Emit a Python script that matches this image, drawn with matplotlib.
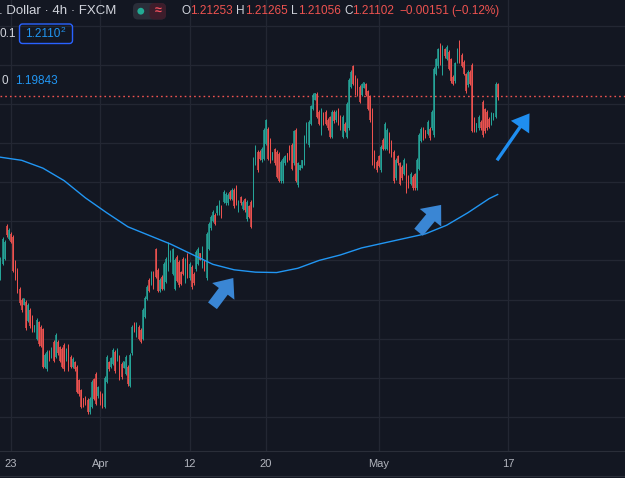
import matplotlib
matplotlib.use('Agg')
import matplotlib.pyplot as plt
import numpy as np
from matplotlib.patches import FancyArrowPatch, FancyBboxPatch, Circle

plt.rcParams['font.family'] = ['Liberation Sans', 'DejaVu Sans']

# 4h candles (oldest first)
opens = [
    1.1877, 1.1896, 1.1902, 1.1944, 1.1928, 1.1934, 1.1930, 1.1898, 1.1888, 1.1864,
    1.1850, 1.1843, 1.1847, 1.1823, 1.1837, 1.1828, 1.1808, 1.1800, 1.1821, 1.1815,
    1.1812, 1.1764, 1.1761, 1.1783, 1.1777, 1.1796, 1.1777, 1.1796, 1.1789, 1.1787,
    1.1792, 1.1774, 1.1791, 1.1777, 1.1764, 1.1770, 1.1764, 1.1747, 1.1734, 1.1724,
    1.1725, 1.1722, 1.1706, 1.1713, 1.1748, 1.1755, 1.1726, 1.1731, 1.1728, 1.1713,
    1.1745, 1.1770, 1.1764, 1.1768, 1.1783, 1.1774, 1.1777, 1.1768, 1.1762, 1.1755,
    1.1764, 1.1740, 1.1781, 1.1819, 1.1804, 1.1815, 1.1811, 1.1800, 1.1828, 1.1851,
    1.1875, 1.1870, 1.1885, 1.1914, 1.1888, 1.1861, 1.1879, 1.1864, 1.1873, 1.1889,
    1.1900, 1.1883, 1.1864, 1.1905, 1.1898, 1.1885, 1.1902, 1.1873, 1.1907, 1.1877,
    1.1892, 1.1883, 1.1889, 1.1896, 1.1910, 1.1892, 1.1898, 1.1877, 1.1915, 1.1941,
    1.1951, 1.1958, 1.1960, 1.1960, 1.1969, 1.1975, 1.1973, 1.1973, 1.1988, 1.1979,
    1.1990, 1.1994, 1.1964, 1.1981, 1.1966, 1.1978, 1.1953, 1.1969, 1.1975, 1.1970,
    1.2024, 1.2039, 1.2039, 1.2028, 1.2030, 1.2049, 1.2068, 1.2054, 1.2028, 1.2042,
    1.2039, 1.2036, 1.2001, 1.2001, 1.2024, 1.2037, 1.2045, 1.2048, 1.2024, 1.2067,
    1.1996, 1.2015, 1.2018, 1.2024, 1.2052, 1.2047, 1.2075, 1.2094, 1.2105, 1.2113,
    1.2090, 1.2062, 1.2088, 1.2090, 1.2080, 1.2083, 1.2058, 1.2090, 1.2079, 1.2093,
    1.2084, 1.2058, 1.2075, 1.2058, 1.2069, 1.2122, 1.2148, 1.2135, 1.2131, 1.2122,
    1.2112, 1.2120, 1.2125, 1.2116, 1.2109, 1.2093, 1.2039, 1.2026, 1.2033, 1.2015,
    1.2054, 1.2043, 1.2043, 1.2062, 1.2052, 1.2039, 1.2005, 1.2033, 1.2024, 1.2020,
    1.2011, 1.2022, 1.2007, 1.1998, 1.2007, 1.2010, 1.1992, 1.2017, 1.2053, 1.2068,
    1.2067, 1.2062, 1.2068, 1.2069, 1.2060, 1.2139, 1.2148, 1.2176, 1.2139, 1.2170,
    1.2158, 1.2167, 1.2157, 1.2135, 1.2129, 1.2154, 1.2180, 1.2163, 1.2154, 1.2138,
    1.2124, 1.2141, 1.2150, 1.2081, 1.2066, 1.2069, 1.2077, 1.2103, 1.2093, 1.2090,
    1.2081, 1.2075, 1.2079, 1.2084, 1.21253,
]
highs = [
    1.1904, 1.1930, 1.1926, 1.1946, 1.1941, 1.1936, 1.1932, 1.1900, 1.1890, 1.1866,
    1.1852, 1.1852, 1.1849, 1.1845, 1.1839, 1.1830, 1.1817, 1.1826, 1.1823, 1.1817,
    1.1814, 1.1781, 1.1785, 1.1785, 1.1789, 1.1798, 1.1807, 1.1798, 1.1791, 1.1789,
    1.1794, 1.1788, 1.1793, 1.1779, 1.1776, 1.1772, 1.1766, 1.1749, 1.1736, 1.1724,
    1.1727, 1.1724, 1.1725, 1.1747, 1.1750, 1.1757, 1.1740, 1.1733, 1.1730, 1.1752,
    1.1779, 1.1772, 1.1777, 1.1788, 1.1785, 1.1788, 1.1779, 1.1770, 1.1772, 1.1779,
    1.1766, 1.1781, 1.1817, 1.1821, 1.1821, 1.1817, 1.1813, 1.1839, 1.1854, 1.1868,
    1.1877, 1.1886, 1.1887, 1.1916, 1.1890, 1.1877, 1.1881, 1.1898, 1.1904, 1.1923,
    1.1913, 1.1916, 1.1903, 1.1907, 1.1900, 1.1887, 1.1904, 1.1903, 1.1909, 1.1898,
    1.1894, 1.1885, 1.1913, 1.1917, 1.1910, 1.1919, 1.1900, 1.1936, 1.1949, 1.1958,
    1.1964, 1.1960, 1.1971, 1.1977, 1.1971, 1.1990, 1.1987, 1.1986, 1.1990, 1.1992,
    1.1992, 1.1996, 1.1977, 1.1983, 1.1977, 1.1980, 1.1977, 1.1971, 1.1977, 1.2032,
    1.2047, 1.2041, 1.2041, 1.2045, 1.2069, 1.2081, 1.2070, 1.2056, 1.2038, 1.2044,
    1.2041, 1.2038, 1.2028, 1.2032, 1.2035, 1.2037, 1.2047, 1.2050, 1.2067, 1.2069,
    1.2026, 1.2022, 1.2028, 1.2060, 1.2077, 1.2079, 1.2099, 1.2114, 1.2114, 1.2115,
    1.2092, 1.2095, 1.2090, 1.2092, 1.2082, 1.2085, 1.2092, 1.2092, 1.2092, 1.2095,
    1.2086, 1.2086, 1.2077, 1.2102, 1.2133, 1.2143, 1.2150, 1.2137, 1.2133, 1.2124,
    1.2127, 1.2128, 1.2127, 1.2118, 1.2111, 1.2095, 1.2041, 1.2028, 1.2035, 1.2047,
    1.2056, 1.2077, 1.2069, 1.2064, 1.2054, 1.2041, 1.2031, 1.2035, 1.2026, 1.2022,
    1.2031, 1.2024, 1.2009, 1.2013, 1.2009, 1.2012, 1.2031, 1.2063, 1.2070, 1.2070,
    1.2067, 1.2079, 1.2070, 1.2092, 1.2147, 1.2159, 1.2172, 1.2178, 1.2175, 1.2172,
    1.2175, 1.2169, 1.2159, 1.2137, 1.2154, 1.2172, 1.2182, 1.2165, 1.2156, 1.2140,
    1.2143, 1.2143, 1.2152, 1.2083, 1.2076, 1.2086, 1.2079, 1.2105, 1.2095, 1.2092,
    1.2083, 1.2090, 1.2088, 1.2128, 1.21265,
]
lows = [
    1.1875, 1.1894, 1.1900, 1.1930, 1.1926, 1.1922, 1.1885, 1.1875, 1.1858, 1.1843,
    1.1834, 1.1843, 1.1811, 1.1821, 1.1814, 1.1808, 1.1808, 1.1798, 1.1791, 1.1789,
    1.1762, 1.1762, 1.1759, 1.1772, 1.1775, 1.1770, 1.1775, 1.1779, 1.1770, 1.1762,
    1.1759, 1.1772, 1.1759, 1.1762, 1.1762, 1.1759, 1.1730, 1.1727, 1.1711, 1.1713,
    1.1715, 1.1704, 1.1704, 1.1711, 1.1721, 1.1715, 1.1724, 1.1715, 1.1711, 1.1711,
    1.1743, 1.1759, 1.1762, 1.1766, 1.1756, 1.1772, 1.1747, 1.1749, 1.1762, 1.1753,
    1.1740, 1.1738, 1.1779, 1.1808, 1.1802, 1.1798, 1.1794, 1.1798, 1.1826, 1.1849,
    1.1859, 1.1868, 1.1864, 1.1877, 1.1859, 1.1859, 1.1862, 1.1862, 1.1871, 1.1887,
    1.1898, 1.1881, 1.1862, 1.1872, 1.1866, 1.1868, 1.1881, 1.1871, 1.1877, 1.1875,
    1.1864, 1.1869, 1.1887, 1.1894, 1.1900, 1.1890, 1.1887, 1.1875, 1.1913, 1.1939,
    1.1949, 1.1945, 1.1958, 1.1958, 1.1954, 1.1973, 1.1971, 1.1971, 1.1977, 1.1977,
    1.1967, 1.1971, 1.1962, 1.1971, 1.1964, 1.1962, 1.1951, 1.1954, 1.1941, 1.1968,
    1.2022, 1.2013, 1.2028, 1.2026, 1.2028, 1.2047, 1.2028, 1.2024, 1.2028, 1.2022,
    1.2005, 1.2000, 1.1999, 1.1999, 1.2022, 1.2026, 1.2028, 1.2015, 1.2022, 1.2000,
    1.1994, 1.2015, 1.2018, 1.2022, 1.2050, 1.2045, 1.2073, 1.2092, 1.2105, 1.2082,
    1.2073, 1.2060, 1.2073, 1.2073, 1.2067, 1.2056, 1.2056, 1.2076, 1.2077, 1.2073,
    1.2067, 1.2056, 1.2064, 1.2056, 1.2067, 1.2120, 1.2124, 1.2111, 1.2110, 1.2101,
    1.2110, 1.2120, 1.2110, 1.2092, 1.2077, 1.2022, 1.2018, 1.2013, 1.2019, 1.2013,
    1.2041, 1.2041, 1.2041, 1.2037, 1.2032, 1.1999, 1.2003, 1.2022, 1.1996, 1.2003,
    1.2009, 1.1986, 1.1992, 1.1996, 1.1990, 1.1990, 1.1990, 1.2015, 1.2051, 1.2054,
    1.2056, 1.2060, 1.2054, 1.2067, 1.2058, 1.2137, 1.2146, 1.2150, 1.2137, 1.2159,
    1.2156, 1.2143, 1.2127, 1.2124, 1.2127, 1.2152, 1.2152, 1.2147, 1.2137, 1.2114,
    1.2122, 1.2124, 1.2064, 1.2064, 1.2064, 1.2067, 1.2067, 1.2058, 1.2063, 1.2067,
    1.2069, 1.2073, 1.2079, 1.2082, 1.21056,
]
closes = [
    1.1902, 1.1928, 1.1924, 1.1932, 1.1939, 1.1924, 1.1887, 1.1877, 1.1860, 1.1845,
    1.1836, 1.1852, 1.1813, 1.1843, 1.1816, 1.1810, 1.1817, 1.1824, 1.1793, 1.1791,
    1.1764, 1.1779, 1.1783, 1.1774, 1.1787, 1.1772, 1.1805, 1.1781, 1.1772, 1.1764,
    1.1761, 1.1786, 1.1761, 1.1764, 1.1774, 1.1761, 1.1732, 1.1729, 1.1713, 1.1713,
    1.1717, 1.1706, 1.1723, 1.1745, 1.1723, 1.1717, 1.1738, 1.1717, 1.1713, 1.1750,
    1.1777, 1.1761, 1.1775, 1.1786, 1.1758, 1.1786, 1.1749, 1.1751, 1.1772, 1.1777,
    1.1742, 1.1779, 1.1815, 1.1810, 1.1819, 1.1800, 1.1796, 1.1837, 1.1852, 1.1866,
    1.1861, 1.1884, 1.1866, 1.1879, 1.1861, 1.1875, 1.1864, 1.1896, 1.1902, 1.1921,
    1.1911, 1.1914, 1.1901, 1.1874, 1.1868, 1.1870, 1.1883, 1.1901, 1.1879, 1.1896,
    1.1866, 1.1871, 1.1911, 1.1915, 1.1900, 1.1917, 1.1889, 1.1934, 1.1947, 1.1956,
    1.1962, 1.1947, 1.1969, 1.1975, 1.1956, 1.1988, 1.1985, 1.1984, 1.1979, 1.1990,
    1.1969, 1.1973, 1.1975, 1.1973, 1.1975, 1.1964, 1.1975, 1.1956, 1.1943, 1.2030,
    1.2045, 1.2015, 1.2030, 1.2043, 1.2067, 1.2079, 1.2030, 1.2026, 1.2038, 1.2024,
    1.2007, 1.2002, 1.2026, 1.2030, 1.2033, 1.2026, 1.2030, 1.2017, 1.2065, 1.2002,
    1.2024, 1.2022, 1.2028, 1.2058, 1.2075, 1.2077, 1.2097, 1.2112, 1.2114, 1.2084,
    1.2075, 1.2093, 1.2075, 1.2075, 1.2069, 1.2058, 1.2090, 1.2078, 1.2090, 1.2075,
    1.2069, 1.2084, 1.2066, 1.2100, 1.2131, 1.2141, 1.2126, 1.2113, 1.2112, 1.2103,
    1.2125, 1.2128, 1.2112, 1.2094, 1.2079, 1.2024, 1.2020, 1.2015, 1.2021, 1.2045,
    1.2043, 1.2075, 1.2067, 1.2039, 1.2034, 1.2001, 1.2029, 1.2024, 1.1998, 1.2005,
    1.2029, 1.1988, 1.1994, 1.2011, 1.1992, 1.1992, 1.2029, 1.2061, 1.2068, 1.2056,
    1.2056, 1.2077, 1.2056, 1.2090, 1.2145, 1.2157, 1.2170, 1.2152, 1.2173, 1.2161,
    1.2173, 1.2145, 1.2129, 1.2126, 1.2152, 1.2170, 1.2154, 1.2149, 1.2139, 1.2116,
    1.2141, 1.2126, 1.2066, 1.2066, 1.2076, 1.2084, 1.2069, 1.2060, 1.2065, 1.2069,
    1.2071, 1.2088, 1.2088, 1.2126, 1.21102,
]

# moving average, sampled every 10 candles (last point = current value)
ma_idx = [0, 10, 20, 30, 40, 50, 60, 70, 80, 90, 100, 110, 120, 130, 140, 150,
          160, 170, 180, 190, 200, 210, 220, 230, 234]
ma_val = [1.2032, 1.2028, 1.2018, 1.2002, 1.1980, 1.1961, 1.1943, 1.1932, 1.1921,
          1.1908, 1.1895, 1.1888, 1.1885, 1.18845, 1.1890, 1.1900, 1.1907, 1.1916,
          1.1922, 1.1928, 1.1934, 1.1945, 1.1961, 1.1979, 1.19843]

# time axis
tick_idx = [5, 47, 89, 125, 178, 239]
tick_lbl = ['23', 'Apr', '12', '20', 'May', '17']
price_grid = [1.165, 1.170, 1.175, 1.180, 1.185, 1.190, 1.195, 1.200, 1.205,
              1.210, 1.215, 1.220]

# hand-drawn arrows: (tail, tip) in (candle index, price)
arrow_fat = [((99.8, 1.18420), (109.6, 1.18775)),
             ((196.8, 1.19360), (207.4, 1.19710))]
arrow_thin = ((233.7, 1.2028), (249.0, 1.2088))

BG = '#131722'
GRID = '#232733'
UP, DOWN = '#26a69a', '#ef5350'
BLUE = '#2196f3'
TXT = '#d1d4dc'

o = np.array(opens)
h = np.array(highs)
l = np.array(lows)
c = np.array(closes)
x = np.arange(len(c))
up = c >= o
col = np.where(up, UP, DOWN)

fig = plt.figure(figsize=(6.25, 4.78), dpi=100, facecolor=BG)
ax = fig.add_axes([0, 27 / 478, 1, 451 / 478], facecolor=BG)

ax.set_xticks(tick_idx)
ax.set_xticklabels(tick_lbl)
ax.set_yticks(price_grid)
ax.grid(True, color=GRID, lw=0.9)
ax.set_axisbelow(True)
ax.tick_params(axis='x', length=0, pad=5.5, colors='#b2b5be', labelsize=8)
ax.tick_params(axis='y', length=0, labelleft=False)
for s in ['top', 'left', 'right']:
    ax.spines[s].set_visible(False)
ax.spines['bottom'].set_color('#2a2e39')

# candles
ax.vlines(x, l, h, colors=col, lw=0.7, zorder=3)
ax.bar(x, np.abs(c - o), bottom=np.minimum(o, c), width=0.62, color=col,
       alpha=0.75, lw=0, zorder=4)

# moving average
ax.plot(ma_idx, ma_val, color=BLUE, lw=1.0, zorder=5)

# last price line
ax.axhline(closes[-1], color=DOWN, lw=1.0, ls=(0, (1.2, 2.2)), zorder=2)

# arrows
for tail, tip in arrow_fat:
    ax.add_patch(FancyArrowPatch(tail, tip, arrowstyle='simple,head_length=12,head_width=20,tail_width=8',
                                 mutation_scale=1, shrinkA=0, shrinkB=0,
                                 color='#3a86d4', lw=0, zorder=6))
ax.add_patch(FancyArrowPatch(arrow_thin[0], arrow_thin[1],
                             arrowstyle='simple,head_length=12,head_width=16,tail_width=2.4',
                             mutation_scale=1, shrinkA=0, shrinkB=0,
                             color='#1f8ef0', lw=0, zorder=6))

ax.set_xlim((0 - 0.4) / 2.125, (625 - 0.4) / 2.125)
ax.set_ylim(1.16563, 1.22330)

# overlay in pixel coordinates for the legend
ov = fig.add_axes([0, 0, 1, 1])
ov.set_xlim(0, 625)
ov.set_ylim(478, 0)
ov.axis('off')
ov.axhline(476, color='#2a2e39', lw=0.8)

ov.text(-1, 10.5, '. Dollar · 4h · FXCM', color=TXT, fontsize=9.5, va='center')
ov.add_patch(FancyBboxPatch((133, 3), 33, 16.5, boxstyle='round,pad=0,rounding_size=5',
                            fc='#2a2e39', ec='none'))
ov.add_patch(FancyBboxPatch((149.5, 3), 16.5, 16.5, boxstyle='round,pad=0,rounding_size=5',
                            fc='#3d1d2b', ec='none'))
ov.add_patch(Circle((140.8, 11.2), 3.4, fc='#22ab94', ec='none'))
ov.text(157.8, 11, '≈', color='#f7525f', fontsize=9, fontweight='bold',
        ha='center', va='center')

chg = closes[-1] - opens[-1]
pieces = [(182, 'O', TXT), (190, f'{opens[-1]:.5f}', DOWN),
          (236, 'H', TXT), (245, f'{highs[-1]:.5f}', DOWN),
          (291, 'L', TXT), (298, f'{lows[-1]:.5f}', DOWN),
          (344, 'C', TXT), (352, f'{closes[-1]:.5f}', DOWN),
          (399, f'{chg:.5f}'.replace('-', '\u2212'), DOWN),
          (451, f'({chg / opens[-1] * 100:.2f}%)'.replace('-', '\u2212'), DOWN)]
for px, s, cc in pieces:
    ov.text(px, 11, s, color=cc, fontsize=8.5, va='center')

ov.text(0, 33.5, '0.1', color=TXT, fontsize=8.5, va='center')
ov.add_patch(FancyBboxPatch((19.5, 24), 53, 19.5, boxstyle='round,pad=0,rounding_size=3',
                            fc='none', ec='#2962ff', lw=1.0))
ov.text(25, 34, '1.2110', color=BLUE, fontsize=8.5, va='center')
ov.text(60.5, 30, '2', color=BLUE, fontsize=6, va='center')

ov.text(2, 81, '0', color=TXT, fontsize=8.5, va='center')
ov.text(15, 81, f'{ma_val[-1]:.5f}', color=BLUE, fontsize=8.5, va='center')

fig.savefig('out.png', dpi=100, facecolor=BG)
